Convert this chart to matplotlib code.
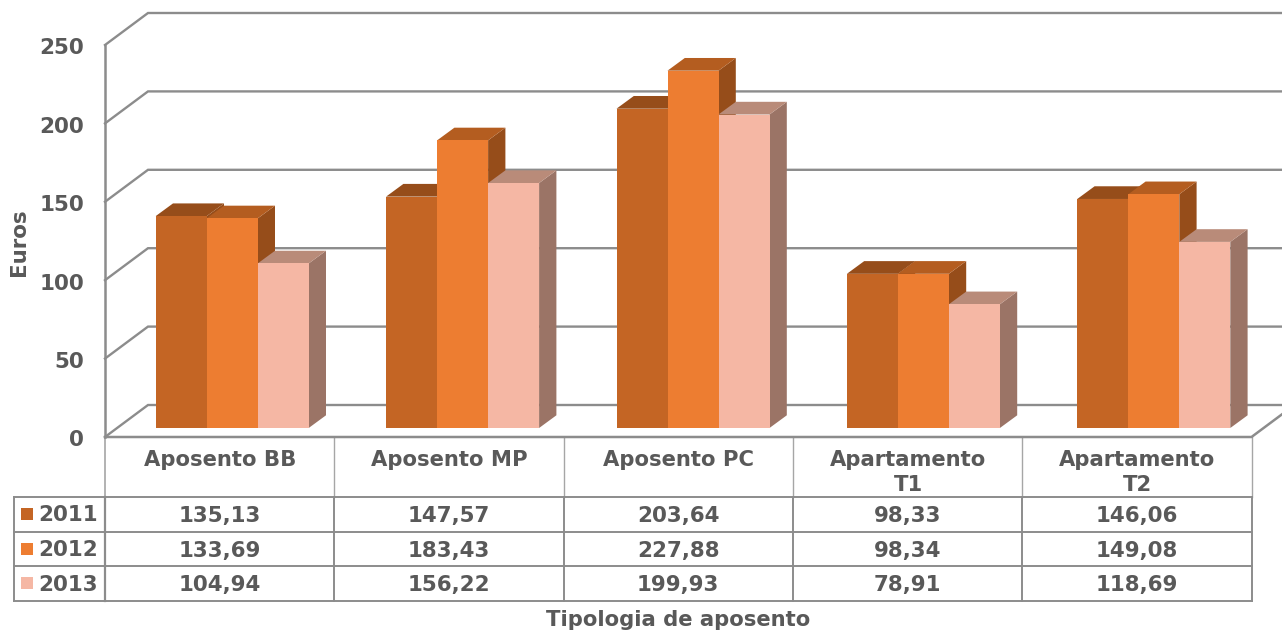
import matplotlib.pyplot as plt
from matplotlib.patches import Polygon

categories = ['Aposento BB', 'Aposento MP', 'Aposento PC', 'Apartamento\nT1', 'Apartamento\nT2']
years = ['2011', '2012', '2013']
values_2011 = [135.13, 147.57, 203.64, 98.33, 146.06]
values_2012 = [133.69, 183.43, 227.88, 98.34, 149.08]
values_2013 = [104.94, 156.22, 199.93, 78.91, 118.69]
y_ticks = [0, 50, 100, 150, 200, 250]

series = [values_2011, values_2012, values_2013]
front_colors = ['#c46524', '#ed7d31', '#f5b7a4']
top_colors = ['#964d1a', '#b45d20', '#b98b79']
side_colors = ['#964d1a', '#964d1a', '#9b7466']
grid_color = '#8c8c8c'
text_color = '#595959'

W, H = 1282, 630
LEFT, RIGHT = 105, 1251.5
BASE, TOP = 437, 45
px_x = (RIGHT - LEFT) / len(categories)  # pixels per category
px_y = (BASE - TOP) / 250                # pixels per euro

plt.rcParams['font.family'] = ['DejaVu Sans']
plt.rcParams['font.weight'] = 'bold'

fig = plt.figure(figsize=(W / 100, H / 100), dpi=100)

# overlay in pixels for the table grid
overlay = fig.add_axes([0, 0, 1, 1])
overlay.set_xlim(0, W)
overlay.set_ylim(H, 0)
overlay.axis('off')

ax = fig.add_axes([LEFT / W, (H - BASE) / H, (RIGHT - LEFT) / W, (BASE - TOP) / H])
ax.set_xlim(0, len(categories))
ax.set_ylim(0, 250)
ax.axis('off')
ax.patch.set_alpha(0)

# depth of the box and of the bars
wall_dx = 43 / px_x
wall_dy = 32 / px_y
bar_dx = 17.3 / px_x
bar_dy = 12.7 / px_y
bar_x0 = 50.7 / px_x
bar_y0 = 9.0 / px_y
bar_w = 51.0 / px_x
bar_pitch = 230.4 / px_x

# walls
for t in y_ticks:
    ax.plot([0, wall_dx, len(categories) + wall_dx], [t, t + wall_dy, t + wall_dy],
            color=grid_color, lw=1.7, clip_on=False, zorder=1, solid_joinstyle='miter')
ax.plot([0, 0], [0, 250], color=grid_color, lw=1.8, clip_on=False, zorder=1)
ax.plot([0, len(categories), len(categories) + wall_dx], [0, 0, wall_dy],
        color=grid_color, lw=1.8, clip_on=False, zorder=1)

# bars, drawn left to right so the next front covers the previous side
z = 2
for c in range(len(categories)):
    for s, vals in enumerate(series):
        v = vals[c]
        x0 = bar_x0 + c * bar_pitch + s * bar_w
        x1 = x0 + bar_w
        y0 = bar_y0
        y1 = y0 + v
        side = Polygon([(x1, y0), (x1 + bar_dx, y0 + bar_dy), (x1 + bar_dx, y1 + bar_dy), (x1, y1)],
                       fc=side_colors[s], ec='none', zorder=z, clip_on=False)
        top = Polygon([(x0, y1), (x0 + bar_dx, y1 + bar_dy), (x1 + bar_dx, y1 + bar_dy), (x1, y1)],
                      fc=top_colors[s], ec='none', zorder=z, clip_on=False)
        front = Polygon([(x0, y0), (x1, y0), (x1, y1), (x0, y1)],
                        fc=front_colors[s], ec='none', zorder=z, clip_on=False)
        ax.add_patch(side)
        ax.add_patch(top)
        ax.add_patch(front)
        z += 1

# value axis labels
for t in y_ticks:
    overlay.text(84, BASE - t * px_y + 3.5, str(t), ha='right', va='center',
                 fontsize=15.5, color=text_color)
overlay.text(19, 242, 'Euros', rotation=90, ha='center', va='center',
             fontsize=15.4, color=text_color)
overlay.text(678, 620, 'Tipologia de aposento', ha='center', va='center',
             fontsize=15.2, color=text_color)

# data table
row_y = [497, 531.7, 566.3, 601]
header_top = BASE
overlay.plot([LEFT, LEFT], [header_top, row_y[0]], color='#a6a6a6', lw=1.2)
for i in range(1, len(categories)):
    x = LEFT + i * px_x
    overlay.plot([x, x], [header_top, row_y[0]], color='#a6a6a6', lw=1.0)
    overlay.plot([x, x], [row_y[0], row_y[-1]], color=grid_color, lw=1.4)
overlay.plot([RIGHT, RIGHT], [header_top, row_y[0]], color='#a6a6a6', lw=1.0)
overlay.plot([RIGHT, RIGHT], [row_y[0], row_y[-1]], color=grid_color, lw=1.4)
overlay.plot([LEFT, LEFT], [row_y[0], row_y[-1]], color=grid_color, lw=1.6)
overlay.plot([13.5, 13.5], [row_y[0], row_y[-1]], color=grid_color, lw=1.4)
for y in row_y:
    overlay.plot([13.5, RIGHT], [y, y], color=grid_color, lw=1.4)

for c, name in enumerate(categories):
    overlay.text(LEFT + (c + 0.5) * px_x + 0.5, 450, name, ha='center', va='top',
                 fontsize=15.2, color=text_color, linespacing=1.32)

for s, vals in enumerate(series):
    yc = (row_y[s] + row_y[s + 1]) / 2
    overlay.add_patch(Polygon([(21, yc - 6.5), (33, yc - 6.5), (33, yc + 5.5), (21, yc + 5.5)],
                              fc=front_colors[s], ec='none'))
    overlay.text(38.5, yc + 1, years[s], ha='left', va='center', fontsize=15.4, color=text_color)
    for c, v in enumerate(vals):
        overlay.text(LEFT + (c + 0.5) * px_x, yc + 1.5, f'{v:.2f}'.replace('.', ','), ha='center',
                     va='center', fontsize=15.4, color=text_color)

plt.savefig('out.png', dpi=100)
plt.close()
